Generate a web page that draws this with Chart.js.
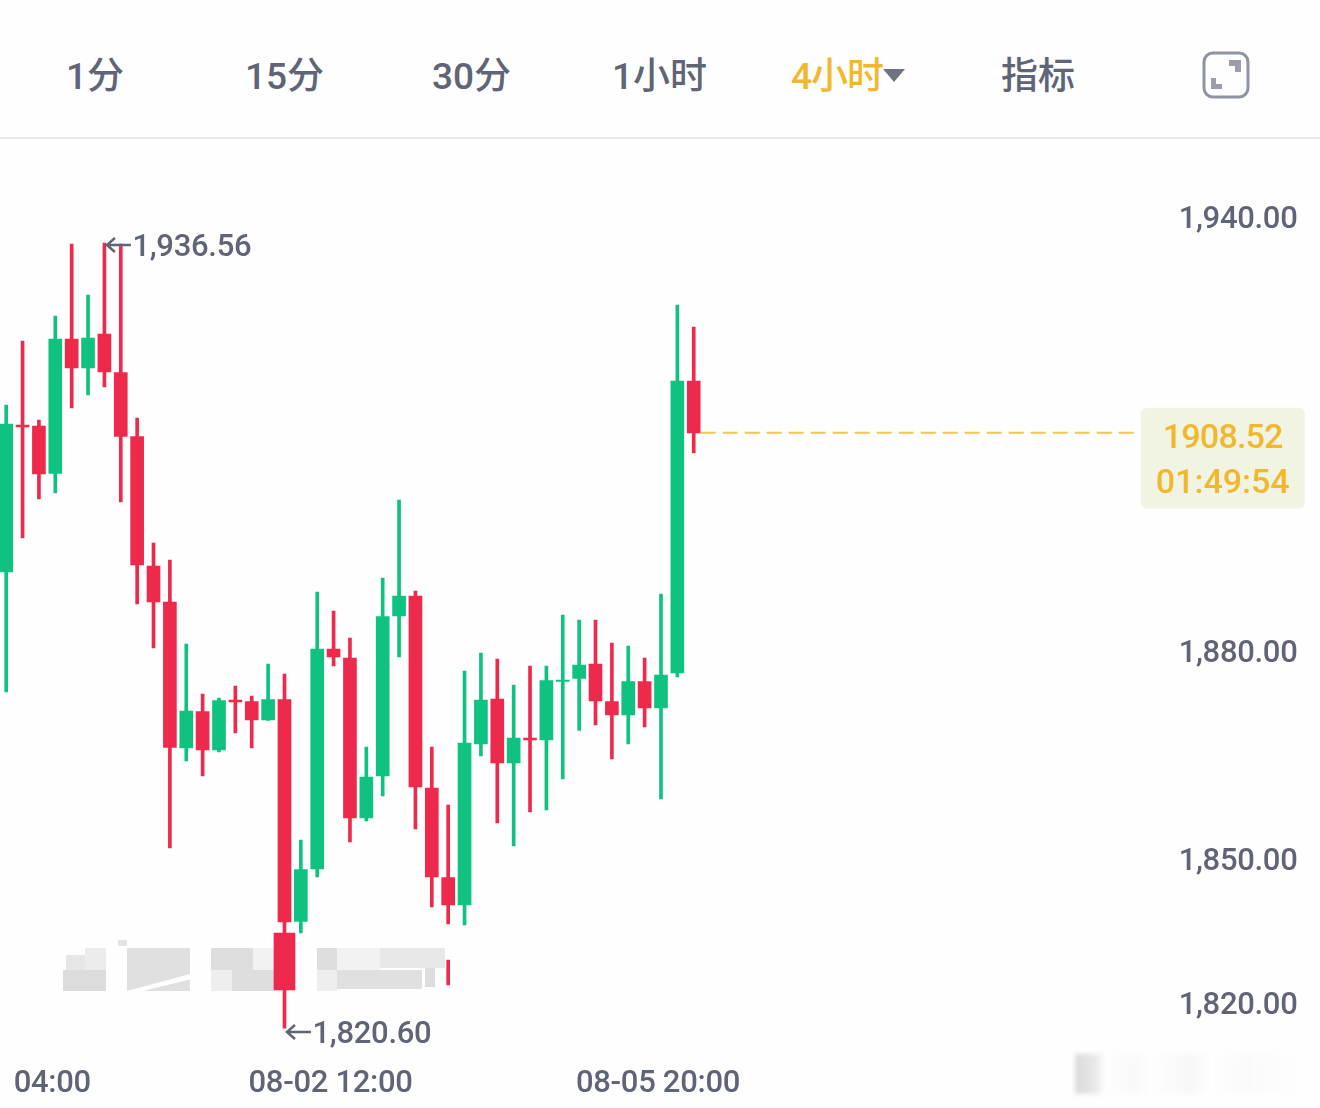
<!DOCTYPE html>
<html>
<head>
<meta charset="utf-8">
<title>4小时 K线</title>
<script src="https://cdn.jsdelivr.net/npm/chart.js@4"></script>
<style>
  html, body { margin: 0; padding: 0; background: #fefefe; }
  body { width: 1320px; height: 1108px; position: relative; overflow: hidden; }
  .tab { position: absolute; top: 53px; font: 500 37px/48px Roboto, "Noto Sans CJK SC", sans-serif; color: #5f6476; white-space: nowrap; }
  .tab.active { color: #f1b82d; letter-spacing: -1px; }
  #arrow { position: absolute; left: 883px; top: 69px; width: 0; height: 0; border-left: 11px solid transparent; border-right: 11px solid transparent; border-top: 13px solid #6f7280; }
  #icon { position: absolute; left: 1202px; top: 51px; }
  #rule { position: absolute; left: 0; top: 137px; width: 1320px; height: 2px; background: #e9e9eb; }
  #chart { position: absolute; left: -2px; top: 139px; }
  #smear { position: absolute; left: 1075px; top: 1054px; width: 225px; height: 40px; filter: blur(2px);
    background: linear-gradient(to right, #dadada 0, #e8e8e8 20px, #fefefe 30px, #f9f9f9 60px, #fefefe 75px, #f7f7f7 115px, #fefefe 135px, #fafafa 170px, #fefefe 225px); }
</style>
</head>
<body>
<span class="tab" style="left:66px">1分</span>
<span class="tab" style="left:245px">15分</span>
<span class="tab" style="left:432px">30分</span>
<span class="tab" style="left:612px">1小时</span>
<span class="tab active" style="left:791px">4小时</span>
<div id="arrow"></div>
<span class="tab" style="left:1001px">指标</span>
<svg id="icon" width="48" height="48" viewBox="0 0 48 48">
  <rect x="2" y="2" width="44" height="44" rx="9" fill="none" stroke="#8f94a3" stroke-width="3"/>
  <path d="M27 9h12v12h-6v-6h-6z" fill="#9a9eab"/>
  <path d="M9 27h5v6h6v5H9z" fill="#9a9eab"/>
</svg>
<div id="rule"></div>
<div id="smear"></div>
<canvas id="chart" width="1324" height="969"></canvas>

<script>
// Candle values, oldest first
const opens = [1887.96, 1909.68, 1909.53, 1902.51, 1922.38, 1918.10, 1923.12, 1917.43, 1907.98, 1888.85, 1883.53,
  1861.97, 1867.36, 1861.67, 1869.06, 1868.83, 1866.10, 1869.13, 1836.34, 1844.09, 1876.59, 1875.26,
  1851.63, 1857.83, 1881.46, 1884.42, 1856.06, 1842.84, 1838.78, 1862.56, 1869.20, 1859.75, 1863.44,
  1863.15, 1871.79, 1872.23, 1874.37, 1868.83, 1866.84, 1871.79, 1867.87, 1873.04, 1916.18];
const highs = [1912.63, 1922.08, 1910.42, 1925.78, 1936.40, 1928.88, 1936.56, 1936.41, 1910.71, 1892.25, 1889.74,
  1877.33, 1869.94, 1869.35, 1871.12, 1869.65, 1874.37, 1872.90, 1848.38, 1885.01, 1882.20, 1878.21,
  1862.11, 1887.08, 1898.60, 1885.16, 1862.11, 1853.55, 1873.34, 1876.00, 1875.11, 1871.27, 1874.08,
  1874.08, 1881.61, 1880.87, 1880.87, 1877.48, 1877.03, 1875.26, 1884.71, 1927.40, 1924.15];
const lows = [1870.24, 1892.99, 1898.75, 1899.63, 1912.19, 1914.11, 1915.29, 1898.30, 1883.24, 1876.74, 1847.20,
  1860.05, 1857.83, 1861.38, 1864.18, 1861.97, 1866.03, 1820.60, 1834.64, 1842.91, 1874.08, 1848.08,
  1851.18, 1854.88, 1875.41, 1850.00, 1838.48, 1835.97, 1835.82, 1860.78, 1850.89, 1847.49, 1852.51,
  1852.81, 1857.39, 1864.55, 1865.36, 1860.34, 1862.56, 1865.07, 1854.43, 1872.45, 1905.54];
const closes = [1909.82, 1909.38, 1902.44, 1922.38, 1918.10, 1922.53, 1917.51, 1907.98, 1889.00, 1883.53, 1862.04,
  1867.43, 1861.67, 1868.98, 1868.76, 1866.10, 1869.13, 1836.26, 1844.02, 1876.59, 1875.41, 1851.63,
  1857.68, 1881.39, 1884.42, 1856.21, 1842.91, 1838.78, 1862.70, 1869.06, 1859.75, 1863.44, 1863.15,
  1871.94, 1872.01, 1874.23, 1868.91, 1866.84, 1871.79, 1867.87, 1872.75, 1916.18, 1908.52];

// Pasted-over pieces left by the watermark removal: index, top price, bottom price
const patchBody = [17, 1834.64, 1826.22];
const patchWick = [27, 1830.65, 1826.96];

const lastPrice = 1908.52;
const countdown = "01:49:54";
const highIndex = 6;
const lowIndex = 17;

// The printed axis labels are not evenly spaced in the picture, so each has its own place
const yTickValues = [1939.96, 1875.85, 1845.13, 1823.86];
const yTickLabels = ["1,940.00", "1,880.00", "1,850.00", "1,820.00"];
const xTickIndexes = [3, 20, 40];
const xTickLabels = ["04:00", "08-02 12:00", "08-05 20:00"];

const UP = "#10c27f";
const DOWN = "#ee2a4c";
const TEXT = "#5f6476";
const YELLOW = "#f1b82d";
const FONT = "Roboto, sans-serif";
const SLOTS = 72; // candle slots including the empty area on the right

const categories = Array.from({ length: SLOTS }, (_, i) => String(i));
const candleColors = opens.map((o, i) => (closes[i] >= o ? UP : DOWN));

function onlyAt(entry) {
  return categories.map((_, i) => (i === entry[0] ? [entry[2], entry[1]] : null));
}

// Grey leftovers of the watermark under the candles
const smudgePlugin = {
  id: "smudge",
  beforeDraw(chart) {
    chart.ctx.letterSpacing = "-0.3px";
  },
  beforeDatasetsDraw(chart) {
    const ctx = chart.ctx;
    const top = -139, left = 2; // page px to canvas px
    const blocks = [
      [63, 970, 43, 21, "#dcdcdc"], [85, 948, 21, 22, "#ececec"], [66, 955, 19, 15, "#e6e6e6"],
      [118, 940, 9, 6, "#e3e3e3"], [127, 948, 63, 43, "#e0e0e0"],
      [211, 948, 42, 22, "#dedede"], [211, 970, 21, 21, "#eeeeee"], [232, 970, 43, 21, "#dedede"],
      [253, 948, 22, 22, "#f2f2f2"], [317, 948, 20, 22, "#dedede"], [317, 970, 20, 21, "#eeeeee"],
      [337, 970, 85, 19, "#e0e0e0"], [337, 948, 43, 22, "#f2f2f2"], [380, 948, 65, 20, "#e8e8e8"],
      [425, 968, 10, 19, "#dddddd"],
    ];
    ctx.save();
    blocks.forEach(([x, y, w, h, c]) => {
      ctx.fillStyle = c;
      ctx.fillRect(x + left, y + top, w, h);
    });
    // white streak through the second block
    ctx.fillStyle = "#fefefe";
    ctx.beginPath();
    ctx.moveTo(127 + left, 991 + top);
    ctx.lineTo(190 + left, 974 + top);
    ctx.lineTo(196 + left, 978 + top);
    ctx.lineTo(143 + left, 991 + top);
    ctx.fill();
    ctx.restore();
  },
};

function drawNote(ctx, text, wickX, py) {
  const tip = wickX + 2.5;
  ctx.strokeStyle = TEXT;
  ctx.lineWidth = 2.5;
  ctx.beginPath();
  ctx.moveTo(tip + 24, py);
  ctx.lineTo(tip, py);
  ctx.moveTo(tip + 8, py - 7);
  ctx.lineTo(tip, py);
  ctx.lineTo(tip + 8, py + 7);
  ctx.stroke();
  ctx.fillText(text, wickX + 28, py + 3);
}

// High / low notes, current price line and its badge
const notesPlugin = {
  id: "notes",
  afterDatasetsDraw(chart) {
    const ctx = chart.ctx;
    const x = chart.scales.x;
    const y = chart.scales.y;
    ctx.save();
    ctx.font = "500 31px " + FONT;
    ctx.fillStyle = TEXT;
    ctx.textBaseline = "middle";
    ctx.textAlign = "left";
    drawNote(ctx, "1,936.56", x.getPixelForValue(highIndex), y.getPixelForValue(highs[highIndex]) + 2);
    drawNote(ctx, "1,820.60", x.getPixelForValue(lowIndex), y.getPixelForValue(lows[lowIndex]) + 4);

    const py = y.getPixelForValue(lastPrice);
    ctx.strokeStyle = "#f3c44f";
    ctx.lineWidth = 2;
    ctx.setLineDash([15, 7]);
    ctx.beginPath();
    ctx.moveTo(x.getPixelForValue(opens.length - 1) + 7, py);
    ctx.lineTo(x.getPixelForValue(69), py);
    ctx.stroke();
    ctx.setLineDash([]);

    const bx = x.getPixelForValue(69) + 5;
    ctx.fillStyle = "#f1f3e3";
    ctx.beginPath();
    ctx.roundRect(bx, py - 25, 164, 101, 6);
    ctx.fill();
    ctx.fillStyle = YELLOW;
    ctx.textAlign = "center";
    ctx.font = "500 34px " + FONT;
    ctx.letterSpacing = "-0.8px";
    ctx.fillText(lastPrice.toFixed(2), bx + 82, py + 7);
    ctx.letterSpacing = "0px";
    ctx.fillText(countdown, bx + 82, py + 52);
    ctx.restore();
  },
};

new Chart(document.getElementById("chart").getContext("2d"), {
  type: "bar",
  data: {
    labels: categories,
    datasets: [
      {
        label: "body",
        data: opens.map((o, i) => [o, closes[i]]),
        backgroundColor: candleColors,
        barThickness: 13,
        grouped: false,
      },
      {
        label: "wick",
        data: lows.map((l, i) => [l, highs[i]]),
        backgroundColor: candleColors,
        barThickness: 3,
        grouped: false,
      },
      {
        label: "patch body",
        data: onlyAt(patchBody),
        backgroundColor: DOWN,
        barThickness: 21,
        grouped: false,
      },
      {
        label: "patch wick",
        data: onlyAt(patchWick),
        backgroundColor: DOWN,
        barThickness: 3,
        grouped: false,
      },
    ],
  },
  options: {
    responsive: false,
    animation: false,
    layout: { padding: { top: 21, left: 0, right: 0, bottom: 0 } },
    plugins: { legend: { display: false }, tooltip: { enabled: false } },
    scales: {
      x: {
        grid: { display: false, drawTicks: false },
        border: { display: false },
        afterFit(scale) {
          scale.height = 58;
          scale.paddingLeft = 0;
          scale.paddingRight = 0;
        },
        ticks: {
          autoSkip: false,
          maxRotation: 0,
          padding: 16,
          labelOffset: -3,
          color: TEXT,
          font: { family: FONT, size: 31, weight: "500" },
          callback(value, index) {
            const at = xTickIndexes.indexOf(index);
            return at >= 0 ? xTickLabels[at] : "";
          },
        },
      },
      y: {
        position: "right",
        min: 1817.36,
        max: 1948.82,
        grid: { display: false, drawTicks: false },
        border: { display: false },
        afterFit(scale) {
          scale.width = 1324 - SLOTS * 16.37;
        },
        afterBuildTicks(scale) {
          scale.ticks = yTickValues.map((v) => ({ value: v }));
        },
        ticks: {
          padding: 2,
          color: TEXT,
          font: { family: FONT, size: 31, weight: "500" },
          callback(value, index) {
            return yTickLabels[index];
          },
        },
      },
    },
  },
  plugins: [smudgePlugin, notesPlugin],
});
</script>
</body>
</html>
